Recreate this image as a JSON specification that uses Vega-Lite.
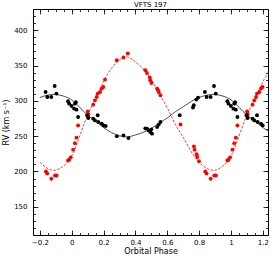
{
  "$schema": "https://vega.github.io/schema/vega-lite/v6.json",
  "width": 235,
  "height": 226,
  "autosize": {"type": "none"},
  "padding": {"left": 33, "top": 9, "right": 6, "bottom": 21},
  "title": {"text": "VFTS 197", "fontSize": 7, "font": "DejaVu Sans", "fontWeight": "normal", "offset": 1, "color": "#000"},
  "config": {
    "view": {"stroke": "#000", "strokeWidth": 1},
    "axis": {
      "domain": false, "grid": false, "tickColor": "#000", "labelColor": "#000", "titleColor": "#000",
      "labelFont": "DejaVu Sans", "titleFont": "DejaVu Sans", "labelFontSize": 7, "titleFontSize": 8,
      "titleFontWeight": "normal", "tickWidth": 0.8
    }
  },
  "resolve": {"axis": {"x": "independent", "y": "independent"}},
  "datasets": {
    "obs": [
      {"phase": 0.009, "rv": 230.8, "comp": "secondary"},
      {"phase": 0.020, "rv": 240, "comp": "secondary"},
      {"phase": 0.030, "rv": 247.8, "comp": "secondary"},
      {"phase": 0.040, "rv": 265, "comp": "secondary"},
      {"phase": 0.101, "rv": 285, "comp": "secondary"},
      {"phase": 0.104, "rv": 281, "comp": "secondary"},
      {"phase": 0.135, "rv": 294.6, "comp": "secondary"},
      {"phase": 0.146, "rv": 300.7, "comp": "secondary"},
      {"phase": 0.157, "rv": 305.4, "comp": "secondary"},
      {"phase": 0.163, "rv": 310.2, "comp": "secondary"},
      {"phase": 0.178, "rv": 312.5, "comp": "secondary"},
      {"phase": 0.188, "rv": 317.3, "comp": "secondary"},
      {"phase": 0.198, "rv": 319.6, "comp": "secondary"},
      {"phase": 0.209, "rv": 330, "comp": "secondary"},
      {"phase": 0.283, "rv": 357.4, "comp": "secondary"},
      {"phase": 0.325, "rv": 361.3, "comp": "secondary"},
      {"phase": 0.352, "rv": 367, "comp": "secondary"},
      {"phase": 0.462, "rv": 343.3, "comp": "secondary"},
      {"phase": 0.472, "rv": 339.4, "comp": "secondary"},
      {"phase": 0.490, "rv": 333, "comp": "secondary"},
      {"phase": 0.493, "rv": 329, "comp": "secondary"},
      {"phase": 0.500, "rv": 325.3, "comp": "secondary"},
      {"phase": 0.536, "rv": 317.3, "comp": "secondary"},
      {"phase": 0.542, "rv": 315, "comp": "secondary"},
      {"phase": 0.546, "rv": 312.5, "comp": "secondary"},
      {"phase": 0.557, "rv": 307.8, "comp": "secondary"},
      {"phase": 0.683, "rv": 266.5, "comp": "secondary"},
      {"phase": 0.767, "rv": 235.5, "comp": "secondary"},
      {"phase": 0.771, "rv": 230.8, "comp": "secondary"},
      {"phase": 0.784, "rv": 224.5, "comp": "secondary"},
      {"phase": 0.788, "rv": 220.5, "comp": "secondary"},
      {"phase": 0.799, "rv": 214.4, "comp": "secondary"},
      {"phase": 0.838, "rv": 200, "comp": "secondary"},
      {"phase": 0.846, "rv": 197, "comp": "secondary"},
      {"phase": 0.872, "rv": 189.6, "comp": "secondary"},
      {"phase": 0.895, "rv": 194.3, "comp": "secondary"},
      {"phase": 0.905, "rv": 194.3, "comp": "secondary"},
      {"phase": 0.977, "rv": 215.6, "comp": "secondary"},
      {"phase": 0.984, "rv": 216.6, "comp": "secondary"},
      {"phase": 0.994, "rv": 220, "comp": "secondary"},
      {"phase": -0.162, "rv": 200, "comp": "secondary"},
      {"phase": -0.154, "rv": 197, "comp": "secondary"},
      {"phase": -0.128, "rv": 189.6, "comp": "secondary"},
      {"phase": -0.105, "rv": 194.3, "comp": "secondary"},
      {"phase": -0.095, "rv": 194.3, "comp": "secondary"},
      {"phase": -0.023, "rv": 215.6, "comp": "secondary"},
      {"phase": -0.016, "rv": 216.6, "comp": "secondary"},
      {"phase": -0.006, "rv": 220, "comp": "secondary"},
      {"phase": 1.009, "rv": 230.8, "comp": "secondary"},
      {"phase": 1.020, "rv": 240, "comp": "secondary"},
      {"phase": 1.030, "rv": 247.8, "comp": "secondary"},
      {"phase": 1.040, "rv": 265, "comp": "secondary"},
      {"phase": 1.101, "rv": 285, "comp": "secondary"},
      {"phase": 1.104, "rv": 281, "comp": "secondary"},
      {"phase": 1.135, "rv": 294.6, "comp": "secondary"},
      {"phase": 1.146, "rv": 300.7, "comp": "secondary"},
      {"phase": 1.157, "rv": 305.4, "comp": "secondary"},
      {"phase": 1.163, "rv": 310.2, "comp": "secondary"},
      {"phase": 1.178, "rv": 312.5, "comp": "secondary"},
      {"phase": 1.188, "rv": 317.3, "comp": "secondary"},
      {"phase": 1.198, "rv": 319.6, "comp": "secondary"},

      {"phase": 0.015, "rv": 288.9, "comp": "primary"},
      {"phase": 0.020, "rv": 296, "comp": "primary"},
      {"phase": 0.026, "rv": 298, "comp": "primary"},
      {"phase": 0.030, "rv": 287.5, "comp": "primary"},
      {"phase": 0.040, "rv": 277, "comp": "primary"},
      {"phase": 0.097, "rv": 279.6, "comp": "primary"},
      {"phase": 0.104, "rv": 275.6, "comp": "primary"},
      {"phase": 0.135, "rv": 274.7, "comp": "primary"},
      {"phase": 0.146, "rv": 272.3, "comp": "primary"},
      {"phase": 0.163, "rv": 279.6, "comp": "primary"},
      {"phase": 0.167, "rv": 270, "comp": "primary"},
      {"phase": 0.188, "rv": 267.7, "comp": "primary"},
      {"phase": 0.199, "rv": 265.2, "comp": "primary"},
      {"phase": 0.213, "rv": 264.3, "comp": "primary"},
      {"phase": 0.283, "rv": 250, "comp": "primary"},
      {"phase": 0.325, "rv": 251, "comp": "primary"},
      {"phase": 0.356, "rv": 247.2, "comp": "primary"},
      {"phase": 0.462, "rv": 261, "comp": "primary"},
      {"phase": 0.472, "rv": 260.6, "comp": "primary"},
      {"phase": 0.483, "rv": 258.2, "comp": "primary"},
      {"phase": 0.493, "rv": 255.7, "comp": "primary"},
      {"phase": 0.500, "rv": 259.6, "comp": "primary"},
      {"phase": 0.504, "rv": 253.5, "comp": "primary"},
      {"phase": 0.536, "rv": 262.8, "comp": "primary"},
      {"phase": 0.546, "rv": 266.3, "comp": "primary"},
      {"phase": 0.557, "rv": 270, "comp": "primary"},
      {"phase": 0.678, "rv": 279.6, "comp": "primary"},
      {"phase": 0.761, "rv": 290.5, "comp": "primary"},
      {"phase": 0.766, "rv": 293.7, "comp": "primary"},
      {"phase": 0.782, "rv": 301.7, "comp": "primary"},
      {"phase": 0.793, "rv": 304.6, "comp": "primary"},
      {"phase": 0.836, "rv": 312.5, "comp": "primary"},
      {"phase": 0.847, "rv": 305.4, "comp": "primary"},
      {"phase": 0.872, "rv": 305.4, "comp": "primary"},
      {"phase": 0.893, "rv": 321, "comp": "primary"},
      {"phase": 0.904, "rv": 310.2, "comp": "primary"},
      {"phase": 0.977, "rv": 299.3, "comp": "primary"},
      {"phase": 0.984, "rv": 296, "comp": "primary"},
      {"phase": 0.999, "rv": 292.6, "comp": "primary"},
      {"phase": -0.164, "rv": 312.5, "comp": "primary"},
      {"phase": -0.153, "rv": 305.4, "comp": "primary"},
      {"phase": -0.128, "rv": 305.4, "comp": "primary"},
      {"phase": -0.107, "rv": 321, "comp": "primary"},
      {"phase": -0.096, "rv": 310.2, "comp": "primary"},
      {"phase": -0.023, "rv": 299.3, "comp": "primary"},
      {"phase": -0.016, "rv": 296, "comp": "primary"},
      {"phase": -0.001, "rv": 292.6, "comp": "primary"},
      {"phase": 1.015, "rv": 288.9, "comp": "primary"},
      {"phase": 1.020, "rv": 296, "comp": "primary"},
      {"phase": 1.026, "rv": 298, "comp": "primary"},
      {"phase": 1.030, "rv": 287.5, "comp": "primary"},
      {"phase": 1.040, "rv": 277, "comp": "primary"},
      {"phase": 1.097, "rv": 279.6, "comp": "primary"},
      {"phase": 1.104, "rv": 275.6, "comp": "primary"},
      {"phase": 1.135, "rv": 274.7, "comp": "primary"},
      {"phase": 1.146, "rv": 272.3, "comp": "primary"},
      {"phase": 1.163, "rv": 279.6, "comp": "primary"},
      {"phase": 1.167, "rv": 270, "comp": "primary"},
      {"phase": 1.188, "rv": 267.7, "comp": "primary"},
      {"phase": 1.199, "rv": 265.2, "comp": "primary"}
    ],
    "model": [
      {"phase": -0.20, "rv": 213, "comp": "secondary"},
      {"phase": -0.15, "rv": 204, "comp": "secondary"},
      {"phase": -0.10, "rv": 201.8, "comp": "secondary"},
      {"phase": -0.05, "rv": 208, "comp": "secondary"},
      {"phase": 0.00, "rv": 222, "comp": "secondary"},
      {"phase": 0.05, "rv": 250, "comp": "secondary"},
      {"phase": 0.10, "rv": 280, "comp": "secondary"},
      {"phase": 0.15, "rv": 303, "comp": "secondary"},
      {"phase": 0.20, "rv": 327, "comp": "secondary"},
      {"phase": 0.25, "rv": 346, "comp": "secondary"},
      {"phase": 0.30, "rv": 358, "comp": "secondary"},
      {"phase": 0.35, "rv": 362, "comp": "secondary"},
      {"phase": 0.40, "rv": 355, "comp": "secondary"},
      {"phase": 0.45, "rv": 345, "comp": "secondary"},
      {"phase": 0.50, "rv": 330, "comp": "secondary"},
      {"phase": 0.55, "rv": 310, "comp": "secondary"},
      {"phase": 0.60, "rv": 290, "comp": "secondary"},
      {"phase": 0.65, "rv": 267, "comp": "secondary"},
      {"phase": 0.70, "rv": 248, "comp": "secondary"},
      {"phase": 0.75, "rv": 228, "comp": "secondary"},
      {"phase": 0.80, "rv": 213, "comp": "secondary"},
      {"phase": 0.85, "rv": 204, "comp": "secondary"},
      {"phase": 0.90, "rv": 201.8, "comp": "secondary"},
      {"phase": 0.95, "rv": 208, "comp": "secondary"},
      {"phase": 1.00, "rv": 222, "comp": "secondary"},
      {"phase": 1.05, "rv": 250, "comp": "secondary"},
      {"phase": 1.10, "rv": 280, "comp": "secondary"},
      {"phase": 1.15, "rv": 303, "comp": "secondary"},
      {"phase": 1.20, "rv": 327, "comp": "secondary"},
      {"phase": 1.25, "rv": 346, "comp": "secondary"},

      {"phase": -0.20, "rv": 304.7, "comp": "primary"},
      {"phase": -0.15, "rv": 308.1, "comp": "primary"},
      {"phase": -0.10, "rv": 308.9, "comp": "primary"},
      {"phase": -0.05, "rv": 306.6, "comp": "primary"},
      {"phase": 0.00, "rv": 301.3, "comp": "primary"},
      {"phase": 0.05, "rv": 290.9, "comp": "primary"},
      {"phase": 0.10, "rv": 279.7, "comp": "primary"},
      {"phase": 0.15, "rv": 271.1, "comp": "primary"},
      {"phase": 0.20, "rv": 262.1, "comp": "primary"},
      {"phase": 0.25, "rv": 255, "comp": "primary"},
      {"phase": 0.30, "rv": 250.5, "comp": "primary"},
      {"phase": 0.35, "rv": 249, "comp": "primary"},
      {"phase": 0.40, "rv": 251.6, "comp": "primary"},
      {"phase": 0.45, "rv": 255.4, "comp": "primary"},
      {"phase": 0.50, "rv": 261, "comp": "primary"},
      {"phase": 0.55, "rv": 268.4, "comp": "primary"},
      {"phase": 0.60, "rv": 275.9, "comp": "primary"},
      {"phase": 0.65, "rv": 284.5, "comp": "primary"},
      {"phase": 0.70, "rv": 291.6, "comp": "primary"},
      {"phase": 0.75, "rv": 299.1, "comp": "primary"},
      {"phase": 0.80, "rv": 304.7, "comp": "primary"},
      {"phase": 0.85, "rv": 308.1, "comp": "primary"},
      {"phase": 0.90, "rv": 308.9, "comp": "primary"},
      {"phase": 0.95, "rv": 306.6, "comp": "primary"},
      {"phase": 1.00, "rv": 301.3, "comp": "primary"},
      {"phase": 1.05, "rv": 290.9, "comp": "primary"},
      {"phase": 1.10, "rv": 279.7, "comp": "primary"},
      {"phase": 1.15, "rv": 271.1, "comp": "primary"},
      {"phase": 1.20, "rv": 262.1, "comp": "primary"},
      {"phase": 1.25, "rv": 255, "comp": "primary"}
    ]
  },
  "layer": [
    {
      "data": {"name": "model"},
      "transform": [{"filter": "datum.comp === 'secondary'"}],
      "mark": {"type": "line", "color": "#ff0000", "strokeWidth": 0.8, "strokeDash": [2.5, 1.5], "interpolate": "natural", "clip": true},
      "encoding": {
        "x": {"field": "phase", "type": "quantitative", "scale": {"domain": [-0.243, 1.232], "nice": false, "zero": false},
              "axis": {"orient": "bottom", "values": [-0.2,-0.15,-0.1,-0.05,0,0.05,0.1,0.15,0.2,0.25,0.3,0.35,0.4,0.45,0.5,0.55,0.6,0.65,0.7,0.75,0.8,0.85,0.9,0.95,1,1.05,1.1,1.15,1.2], "labels": false, "tickSize": -2.5, "title": null}},
        "y": {"field": "rv", "type": "quantitative", "scale": {"domain": [110, 430], "nice": false, "zero": false},
              "axis": {"orient": "left", "values": [110,120,130,140,150,160,170,180,190,200,210,220,230,240,250,260,270,280,290,300,310,320,330,340,350,360,370,380,390,400,410,420,430], "labels": false, "tickSize": -2.5, "title": null}}
      }
    },
    {
      "data": {"name": "model"},
      "transform": [{"filter": "datum.comp === 'primary'"}],
      "mark": {"type": "line", "color": "#222222", "strokeWidth": 0.8, "interpolate": "natural", "clip": true},
      "encoding": {
        "x": {"field": "phase", "type": "quantitative", "scale": {"domain": [-0.243, 1.232], "nice": false, "zero": false},
              "axis": {"orient": "top", "values": [-0.2,-0.15,-0.1,-0.05,0,0.05,0.1,0.15,0.2,0.25,0.3,0.35,0.4,0.45,0.5,0.55,0.6,0.65,0.7,0.75,0.8,0.85,0.9,0.95,1,1.05,1.1,1.15,1.2], "labels": false, "tickSize": -2.5, "title": null}},
        "y": {"field": "rv", "type": "quantitative", "scale": {"domain": [110, 430], "nice": false, "zero": false},
              "axis": {"orient": "right", "values": [110,120,130,140,150,160,170,180,190,200,210,220,230,240,250,260,270,280,290,300,310,320,330,340,350,360,370,380,390,400,410,420,430], "labels": false, "tickSize": -2.5, "title": null}}
      }
    },
    {
      "data": {"name": "obs"},
      "transform": [{"filter": "datum.comp === 'secondary'"}],
      "mark": {"type": "circle", "color": "#ff0000", "size": 15, "opacity": 1},
      "encoding": {
        "x": {"field": "phase", "type": "quantitative", "scale": {"domain": [-0.243, 1.232], "nice": false, "zero": false},
              "axis": {"orient": "top", "values": [-0.2,0,0.2,0.4,0.6,0.8,1,1.2], "labels": false, "tickSize": -5, "title": null}},
        "y": {"field": "rv", "type": "quantitative", "scale": {"domain": [110, 430], "nice": false, "zero": false},
              "axis": {"orient": "right", "values": [150,200,250,300,350,400], "labels": false, "tickSize": -5, "title": null}}
      }
    },
    {
      "data": {"name": "obs"},
      "transform": [{"filter": "datum.comp === 'primary'"}],
      "mark": {"type": "circle", "color": "#000000", "size": 15, "opacity": 1},
      "encoding": {
        "x": {"field": "phase", "type": "quantitative", "scale": {"domain": [-0.243, 1.232], "nice": false, "zero": false},
              "axis": {"orient": "bottom", "values": [-0.2,0,0.2,0.4,0.6,0.8,1,1.2], "format": "~g", "tickSize": -5, "labelPadding": 8, "title": "Orbital Phase", "titlePadding": 2}},
        "y": {"field": "rv", "type": "quantitative", "scale": {"domain": [110, 430], "nice": false, "zero": false},
              "axis": {"orient": "left", "values": [150,200,250,300,350,400], "tickSize": -5, "labelPadding": 11, "title": "RV (km s⁻¹)", "titlePadding": 3}}
      }
    }
  ]
}
